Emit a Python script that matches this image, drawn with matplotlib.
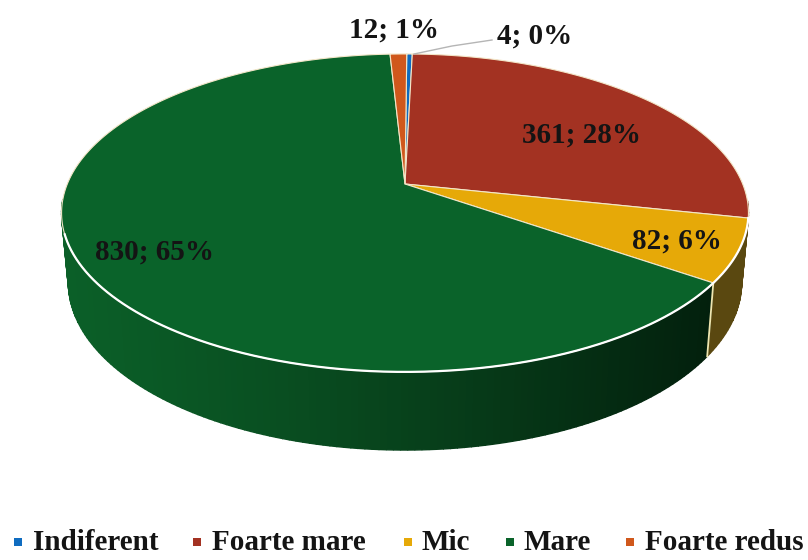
import numpy as np
import matplotlib
matplotlib.use("Agg")
import matplotlib.pyplot as plt
from matplotlib.colors import to_rgb

categories = ["Indiferent", "Foarte mare", "Mic", "Mare", "Foarte redus"]
values = [4, 361, 82, 830, 12]
percents = [0, 28, 6, 65, 1]
top_colors = ["#0f6cc0", "#a33222", "#e6a908", "#0a632a", "#d0581c"]
side_left = ["#0a4a80", "#6e2217", "#6e5812", "#0b5f28", "#8a3a12"]
side_right = ["#0a4a80", "#6e2217", "#5a4810", "#03200d", "#8a3a12"]

label_pos = [(497, 36), (522, 135), (632, 241), (95, 252), (349, 30)]
legend_text_x = [33, 212, 421, 524, 645]
legend_mark_x = [18, 197, 408, 510, 630]
START = 0.35
K = 0.182


def project(theta, cx, cy, a, b):
    x, y = np.sin(theta), np.cos(theta)
    d = 1 + K * y
    return cx + b * x / d, cy - a * y / d


def top(theta):
    return project(theta, 405, 184, 153.7, 337.7)


def low(theta):
    return project(theta, 405, 252, 162, 331)


fig = plt.figure(figsize=(8.08, 5.6), dpi=100)
ax = fig.add_axes([0, 0, 1, 1])
ax.set_xlim(0, 808)
ax.set_ylim(560, 0)
ax.axis("off")

edges = np.radians(START + 360 * np.concatenate([[0], np.cumsum(values)]) / sum(values))

# side wall (front part only; the back is hidden by the top face)
for i in range(len(values)):
    th = np.linspace(edges[i], edges[i + 1], max(3, int(np.degrees(edges[i + 1] - edges[i]))))
    cl, cr = np.array(to_rgb(side_left[i])), np.array(to_rgb(side_right[i]))
    for t0, t1 in zip(th[:-1], th[1:]):
        if np.cos((t0 + t1) / 2) > -0.1:
            continue
        x0, y0 = top(t0)
        x1, y1 = top(t1)
        x2, y2 = low(t1)
        x3, y3 = low(t0)
        f = np.clip(((x0 + x1) / 2 - 62) / 650, 0, 1) ** 1.2
        c = cl * (1 - f) + cr * f
        ax.fill([x0, x1, x2, x3], [y0, y1, y2, y3], facecolor=c, edgecolor=c,
                lw=1.0, zorder=1)

# cream edge between the yellow and green side walls
b = edges[3]
ax.plot(*zip(top(b), low(b)), color="#efe6b0", lw=1.3, zorder=2)

# top face: thin radial seams, brighter front rim
for i in range(len(values)):
    th = np.linspace(edges[i], edges[i + 1], 200)
    xs, ys = top(th)
    ax.fill(np.r_[405, xs], np.r_[184, ys], facecolor=top_colors[i],
            edgecolor="#f3e6c8", lw=0.8, joinstyle="round", zorder=3)
th = np.linspace(edges[2], edges[4] - np.radians(105), 400)
ax.plot(*top(th), color="#ffffff", lw=1.6, zorder=4)

# leader line
ax.plot([414, 452, 492], [54, 46, 40], color="#b5b5b5", lw=1, zorder=4)

font = dict(family="Liberation Serif", fontweight="bold", color="#141414")
for (x, y), v, p in zip(label_pos, values, percents):
    ax.text(x, y, f"{v}; {p}%", fontsize=21, ha="left", va="center", zorder=5, **font)

for name, col, tx, mx in zip(categories, top_colors, legend_text_x, legend_mark_x):
    ax.scatter([mx], [542], s=36, marker="s", color=col, zorder=5, linewidths=0)
    ax.text(tx, 543, name, fontsize=21, ha="left", va="center", zorder=5, **font)

fig.savefig("out.png", dpi=100)
